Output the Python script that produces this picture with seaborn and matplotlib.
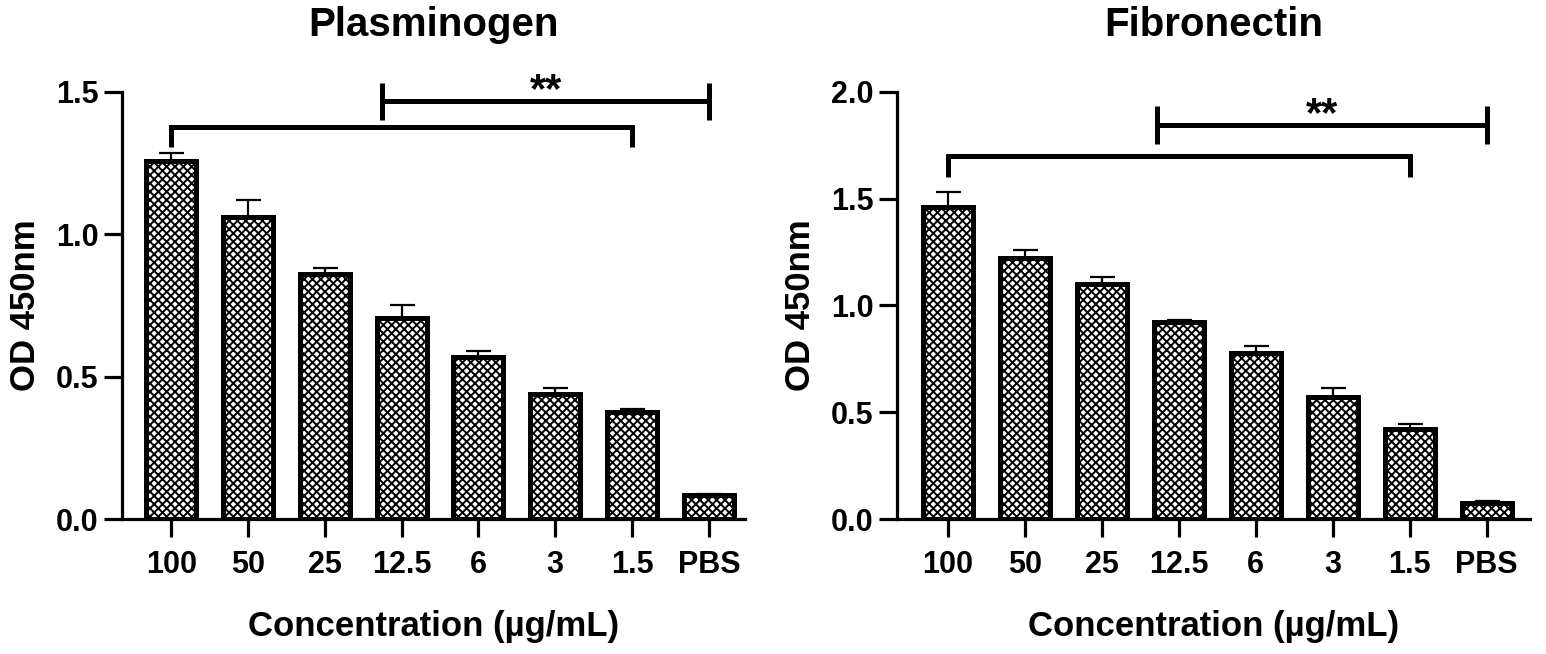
import numpy as np
import pandas as pd
import seaborn as sns
import matplotlib.pyplot as plt

# concentrations on the x axis
conc = ['100', '50', '25', '12.5', '6', '3', '1.5', 'PBS']

# Plasminogen binding (OD 450nm), mean and SEM
plg_mean = [1.257, 1.06, 0.86, 0.706, 0.569, 0.44, 0.376, 0.084]
plg_sem = [0.029, 0.06, 0.02, 0.044, 0.021, 0.02, 0.009, 0.004]

# Fibronectin binding (OD 450nm), mean and SEM
fn_mean = [1.461, 1.222, 1.10, 0.923, 0.777, 0.571, 0.42, 0.075]
fn_sem = [0.07, 0.038, 0.033, 0.007, 0.033, 0.043, 0.025, 0.009]

sns.set_style('ticks')
plt.rcParams['font.family'] = ['Liberation Sans', 'DejaVu Sans']
plt.rcParams['font.weight'] = 'bold'
plt.rcParams['hatch.linewidth'] = 1.4
for k in ['text.color', 'axes.labelcolor', 'xtick.color', 'ytick.color']:
	plt.rcParams[k] = 'black'

fs_title = 29
fs_labels = 25
fs_ticks = 22
lw = 2.3
hatch = 'xxxx'

fig = plt.figure(figsize=(15.46, 6.54), dpi=100)
ax1 = fig.add_axes([0.0789, 0.2064, 0.403, 0.653])
ax2 = fig.add_axes([0.5802, 0.2064, 0.4094, 0.653])

panels = [
	(ax1, 'Plasminogen', plg_mean, plg_sem, 1.5, (-0.64, 7.47),
	 (2.75, 7.0, 1.468, 0.065), (0.0, 6.0, 1.377, 1.307)),
	(ax2, 'Fibronectin', fn_mean, fn_sem, 2.0, (-0.66, 7.56),
	 (2.72, 7.0, 1.845, 0.09), (0.0, 6.0, 1.70, 1.60)),
]

for ax, title, mean, sem, ymax, xlim, upper, lower in panels:
	df = pd.DataFrame({'Concentration': conc, 'OD': mean})
	sns.barplot(data=df, x='Concentration', y='OD', order=conc, ax=ax,
				color='white', edgecolor='black', linewidth=3.6,
				width=0.65, errorbar=None)
	for p in ax.patches:
		p.set_hatch(hatch)
	# upper error bars only
	ax.errorbar(np.arange(len(conc)), mean, yerr=[np.zeros(len(sem)), sem],
				fmt='none', ecolor='black', elinewidth=1.6, capsize=9,
				capthick=1.6, zorder=0.5)

	ax.set_xlim(*xlim)
	ax.set_ylim(0, ymax)
	ax.set_yticks(np.arange(0, ymax + 0.01, 0.5))
	ax.yaxis.set_major_formatter(plt.FormatStrFormatter('%.1f'))
	ax.set_title(title, fontsize=fs_title, fontweight='bold', pad=40)
	ax.set_xlabel('Concentration (µg/mL)', fontsize=fs_labels,
				  fontweight='bold', labelpad=22)
	ax.set_ylabel('OD 450nm', fontsize=fs_labels, fontweight='bold', labelpad=10)
	ax.tick_params(axis='both', labelsize=fs_ticks, width=lw, length=13,
				   color='black', pad=4)
	ax.tick_params(axis='x', pad=9)
	for l in ax.get_xticklabels() + ax.get_yticklabels():
		l.set_fontweight('bold')
	sns.despine(ax=ax)
	for s in ['left', 'bottom']:
		ax.spines[s].set_linewidth(lw)
		ax.spines[s].set_color('black')

	# significance brackets
	x0, x1, y, h = upper
	ax.plot([x0, x1], [y, y], color='black', lw=3.6, clip_on=False,
			solid_capstyle='butt')
	ax.plot([x0, x0], [y - h, y + h], color='black', lw=3.6, clip_on=False,
			solid_capstyle='butt')
	ax.plot([x1, x1], [y - h, y + h], color='black', lw=3.6, clip_on=False,
			solid_capstyle='butt')
	ax.annotate('**', ((x0 + x1) / 2, y), xytext=(0, -1),
				textcoords='offset points', ha='center', va='baseline',
				fontsize=30, fontweight='bold', annotation_clip=False)
	a, b, yl, yd = lower
	ax.plot([a, a, b, b], [yd, yl, yl, yd], color='black', lw=3.6,
			clip_on=False, solid_joinstyle='miter', solid_capstyle='butt')

fig.savefig('out.png', dpi=100)
